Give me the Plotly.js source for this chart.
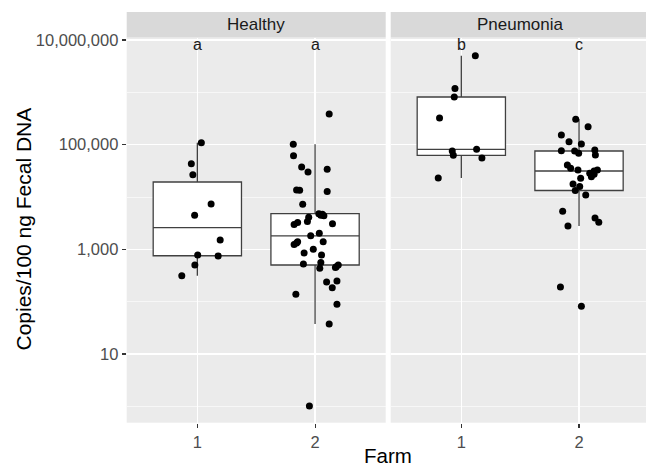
<!DOCTYPE html>
<html>
<head>
<meta charset="utf-8">
<script src="https://cdn.plot.ly/plotly-3.0.1.min.js"></script>
<style>html,body{margin:0;padding:0;background:#fff;}#chart{width:646px;height:468px;}</style>
</head>
<body>
<div id="chart"></div>
<script>
// ---- data ----
const panels = ['Healthy', 'Pneumonia'];
const farms = [1, 2];
const farmLabels = ['1', '2'];
const groupLetters = { Healthy: ['a', 'a'], Pneumonia: ['b', 'c'] };

// copies / 100 ng fecal DNA
const healthyFarm1 = [109000, 43300, 26700, 7350, 4470, 1510, 779, 745, 501, 313];
const healthyFarm1Jitter = [0.034, -0.051, -0.038, 0.117, -0.023, 0.194, 0.003, 0.177, -0.021, -0.132];

const healthyFarm2 = [385000, 102000, 61600, 37400, 33800, 30000, 13600, 13400, 12700, 7290,
  4800, 4690, 4470, 4370, 4090, 3400, 3260, 3080, 2980, 2030,
  1810, 1400, 1400, 1320, 1240, 1000, 851, 779, 560, 524,
  502, 464, 450, 434, 248, 238, 185, 138, 89, 37.4, 1.01];
const healthyFarm2Jitter = [0.120, -0.185, -0.183, -0.114, 0.103, -0.060, -0.157, -0.131, 0.103, -0.105,
  0.032, 0.062, 0.049, 0.075, -0.054, -0.065, -0.148, 0.148, -0.178, 0.036,
  -0.037, -0.148, 0.069, -0.157, -0.178, -0.015, -0.093, 0.055, 0.049, -0.099,
  0.197, 0.180, 0.173, 0.040, 0.186, 0.098, 0.146, -0.163, 0.186, 0.120, -0.048];

const pneumoniaFarm1 = [5010000, 1190000, 814000, 323000, 75700, 62600, 81600, 55600, 23100];
const pneumoniaFarm1Jitter = [0.119, -0.054, -0.060, -0.185, -0.077, -0.068, 0.130, 0.175, -0.196];

const pneumoniaFarm2 = [305000, 220000, 153000, 114000, 103000, 76700, 75700, 68400, 79100, 63500,
  40900, 35400, 32800, 28400, 31400, 32800, 24400, 27200, 22800, 17700,
  15900, 13300, 10900, 5330, 3970, 3280, 2790, 191, 81.6];
const pneumoniaFarm2Jitter = [-0.028, 0.077, -0.150, -0.085, 0.020, -0.150, -0.037, -0.003, 0.134, 0.139,
  -0.099, -0.071, -0.009, 0.091, 0.128, 0.156, 0.105, 0.128, 0.014, -0.051,
  0.006, -0.032, 0.057, -0.139, 0.136, 0.168, -0.094, -0.158, 0.020];

const yTickVals = [10, 1000, 100000, 10000000];
const yTickText = ['10', '1,000', '100,000', '10,000,000'];
const yMinorVals = [1, 100, 10000, 1000000];
const letterLevel = 10000000;
const yTitle = 'Copies/100 ng Fecal DNA';
const xTitle = 'Farm';

// ---- boxplot statistics (ggplot style, on log10 scale, type-7 quantiles) ----
function quant(sorted, p) {
  const h = (sorted.length - 1) * p;
  const lo = Math.floor(h);
  const hi = Math.min(lo + 1, sorted.length - 1);
  return sorted[lo] + (h - lo) * (sorted[hi] - sorted[lo]);
}
function boxStats(vals) {
  const l = vals.map(Math.log10).sort((a, b) => a - b);
  const q1 = quant(l, 0.25), med = quant(l, 0.5), q3 = quant(l, 0.75);
  const iqr = q3 - q1;
  const lf = Math.min(...l.filter(v => v >= q1 - 1.5 * iqr));
  const uf = Math.max(...l.filter(v => v <= q3 + 1.5 * iqr));
  const p = v => Math.pow(10, v);
  return { q1: p(q1), median: p(med), q3: p(q3), lowerfence: p(lf), upperfence: p(uf) };
}

const groups = {
  Healthy: [[healthyFarm1, healthyFarm1Jitter], [healthyFarm2, healthyFarm2Jitter]],
  Pneumonia: [[pneumoniaFarm1, pneumoniaFarm1Jitter], [pneumoniaFarm2, pneumoniaFarm2Jitter]]
};

const FONT = 'Liberation Sans, Arial, Helvetica, sans-serif';
const traces = [];
const axisIds = [['x', 'y'], ['x2', 'y2']];

panels.forEach((panel, pi) => {
  const [xa, ya] = axisIds[pi];
  const stats = groups[panel].map(g => boxStats(g[0]));
  traces.push({
    type: 'box', xaxis: xa, yaxis: ya,
    x: farms,
    q1: stats.map(s => s.q1), median: stats.map(s => s.median), q3: stats.map(s => s.q3),
    lowerfence: stats.map(s => s.lowerfence), upperfence: stats.map(s => s.upperfence),
    width: 0.75, whiskerwidth: 0, boxpoints: false,
    fillcolor: 'white', line: { color: '#404040', width: 1.3 },
    hoverinfo: 'skip', showlegend: false
  });
});
panels.forEach((panel, pi) => {
  const [xa, ya] = axisIds[pi];
  groups[panel].forEach((g, fi) => {
    traces.push({
      type: 'scatter', mode: 'markers', xaxis: xa, yaxis: ya,
      x: g[1].map(j => farms[fi] + j), y: g[0],
      marker: { color: 'black', size: 7 },
      hoverinfo: 'skip', showlegend: false
    });
  });
});

const W = 646, H = 468;
const panelTop = 37.5, panelBottom = 422.7, stripTop = 12;
const leftDom = [126.7 / W, 385.7 / W], rightDom = [390.7 / W, 1];
const yDom = [1 - panelBottom / H, 1 - panelTop / H];

function xAxis(dom, range, anchor) {
  return {
    domain: dom, range: range, anchor: anchor,
    tickmode: 'array', tickvals: farms, ticktext: farmLabels,
    ticks: 'outside', ticklen: 4, tickwidth: 1.1, tickcolor: '#333333',
    tickfont: { family: FONT, size: 16.5, color: '#4d4d4d' },
    showgrid: true, gridcolor: '#ffffff', gridwidth: 1.2,
    zeroline: false, showline: false, fixedrange: true
  };
}
function yAxis(anchor, labels) {
  return {
    domain: yDom, type: 'log', range: [-0.313, 7.048], anchor: anchor,
    tickmode: 'array', tickvals: yTickVals, ticktext: yTickText,
    ticks: labels ? 'outside' : '', ticklen: 4, tickwidth: 1.1, tickcolor: '#333333',
    showticklabels: labels,
    tickfont: { family: FONT, size: 16.5, color: '#4d4d4d' },
    showgrid: true, gridcolor: '#ffffff', gridwidth: 1.2,
    minor: { tickmode: 'array', tickvals: yMinorVals, showgrid: true, gridcolor: '#ffffff', gridwidth: 0.6, ticks: '' },
    zeroline: false, showline: false, fixedrange: true
  };
}

const annotations = [];
const shapes = [];
panels.forEach((panel, pi) => {
  const dom = pi === 0 ? leftDom : rightDom;
  shapes.push({
    type: 'rect', xref: 'paper', yref: 'paper', layer: 'below',
    x0: dom[0], x1: pi === 0 ? dom[1] : (390.7 + 259) / W, y0: yDom[1], y1: 1 - stripTop / H,
    fillcolor: '#d9d9d9', line: { width: 0 }
  });
  annotations.push({
    xref: 'paper', yref: 'paper', x: pi === 0 ? (dom[0] + dom[1]) / 2 : (390.7 + 259 / 2) / W,
    y: 1 - (stripTop + panelTop) / 2 / H, xanchor: 'center', yanchor: 'middle',
    text: panel, showarrow: false, font: { family: FONT, size: 17, color: '#1a1a1a' }
  });
  const [xa, ya] = axisIds[pi];
  groupLetters[panel].forEach((letter, fi) => {
    annotations.push({
      xref: xa, yref: ya, x: farms[fi], y: Math.log10(letterLevel),
      xanchor: 'center', yanchor: 'middle', yshift: -4,
      text: letter, showarrow: false, font: { family: FONT, size: 16, color: '#1a1a1a' }
    });
  });
});
annotations.push({
  xref: 'paper', yref: 'paper', x: 23 / W, y: 1 - 229.5 / H, xanchor: 'center', yanchor: 'middle',
  text: yTitle, textangle: -90, showarrow: false, font: { family: FONT, size: 21, color: '#000000' }
});
annotations.push({
  xref: 'paper', yref: 'paper', x: 388 / W, y: 0, xanchor: 'center', yanchor: 'bottom',
  borderpad: 0, text: xTitle, showarrow: false, font: { family: FONT, size: 20.5, color: '#000000' }
});

const layout = {
  width: W, height: H, margin: { l: 0, r: 0, t: 0, b: 0 },
  paper_bgcolor: '#ffffff', plot_bgcolor: '#ebebeb', showlegend: false,
  font: { family: FONT },
  xaxis: xAxis(leftDom, [0.4, 2.6], 'y'),
  xaxis2: xAxis(rightDom, [0.4, 2.569], 'y2'),
  yaxis: yAxis('x', true),
  yaxis2: Object.assign(yAxis('x2', false), { matches: 'y' }),
  boxmode: 'overlay',
  shapes: shapes, annotations: annotations
};

Plotly.newPlot('chart', traces, layout, { staticPlot: true, displayModeBar: false });
</script>
</body>
</html>
